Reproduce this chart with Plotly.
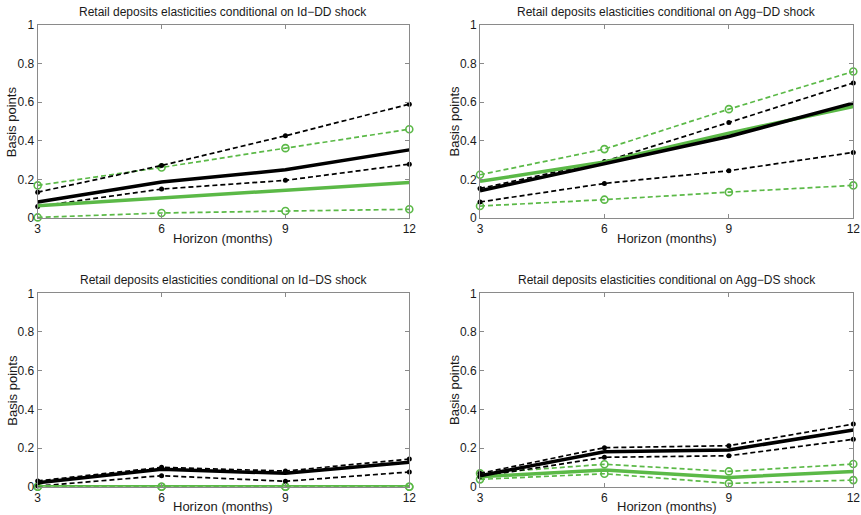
import plotly.graph_objects as go

horizon = [3, 6, 9, 12]

titles = [
    "Retail deposits elasticities conditional on Id\u2212DD shock",
    "Retail deposits elasticities conditional on Agg\u2212DD shock",
    "Retail deposits elasticities conditional on Id\u2212DS shock",
    "Retail deposits elasticities conditional on Agg\u2212DS shock",
]
x_title = "Horizon (months)"
y_title = "Basis points"

# Id-DD
iddd_black = [0.083, 0.186, 0.25, 0.353]
iddd_black_hi = [0.134, 0.272, 0.426, 0.59]
iddd_black_lo = [0.06, 0.15, 0.195, 0.279]
iddd_green = [0.064, 0.105, 0.145, 0.184]
iddd_green_hi = [0.169, 0.262, 0.362, 0.46]
iddd_green_lo = [0.003, 0.026, 0.036, 0.045]

# Agg-DD
aggdd_black = [0.141, 0.281, 0.422, 0.595]
aggdd_black_hi = [0.153, 0.293, 0.495, 0.70]
aggdd_black_lo = [0.083, 0.179, 0.245, 0.34]
aggdd_green = [0.19, 0.29, 0.44, 0.578]
aggdd_green_hi = [0.224, 0.357, 0.564, 0.759]
aggdd_green_lo = [0.062, 0.095, 0.134, 0.169]

# Id-DS
idds_black = [0.02, 0.09, 0.069, 0.126]
idds_black_hi = [0.03, 0.10, 0.081, 0.143]
idds_black_lo = [0.003, 0.057, 0.028, 0.076]
idds_green = [0.0, 0.0, 0.0, 0.0]
idds_green_hi = [0.0, 0.0, 0.0, 0.0]
idds_green_lo = [0.0, 0.0, 0.0, 0.0]

# Agg-DS
aggds_black = [0.057, 0.181, 0.19, 0.293]
aggds_black_hi = [0.069, 0.202, 0.212, 0.324]
aggds_black_lo = [0.052, 0.152, 0.16, 0.245]
aggds_green = [0.052, 0.086, 0.048, 0.078]
aggds_green_hi = [0.069, 0.116, 0.079, 0.117]
aggds_green_lo = [0.038, 0.067, 0.017, 0.034]

panels = [
    (iddd_black, iddd_black_hi, iddd_black_lo, iddd_green, iddd_green_hi, iddd_green_lo),
    (aggdd_black, aggdd_black_hi, aggdd_black_lo, aggdd_green, aggdd_green_hi, aggdd_green_lo),
    (idds_black, idds_black_hi, idds_black_lo, idds_green, idds_green_hi, idds_green_lo),
    (aggds_black, aggds_black_hi, aggds_black_lo, aggds_green, aggds_green_hi, aggds_green_lo),
]

W, H = 861, 515
GREEN = "#5BB947"
BLACK = "#000000"
GREY = "#8a8a8a"
TXT = "#1a1a1a"
DASH = "5px,3px"

xdoms = [[37.7 / W, 409.3 / W], [480 / W, 853.3 / W]]
ydoms = [[1 - 218 / H, 1 - 25 / H], [1 - 486.7 / H, 1 - 293.3 / H]]

fig = go.Figure()
FONT = "Liberation Sans, Arial, Helvetica, sans-serif"

for i, (b, bh, bl, g, gh, gl) in enumerate(panels):
    r, c = divmod(i, 2)
    n = i + 1
    xa = "x" if n == 1 else f"x{n}"
    ya = "y" if n == 1 else f"y{n}"
    common = dict(xaxis=xa, yaxis=ya, showlegend=False, cliponaxis=False, x=horizon,
                  hoverinfo="skip")
    for ys in (gh, gl):
        fig.add_trace(go.Scatter(y=ys, mode="lines+markers",
                                 line=dict(color=GREEN, width=1.7, dash=DASH),
                                 marker=dict(symbol="circle-open", size=7, color=GREEN,
                                             line=dict(width=1.6, color=GREEN)),
                                 **common))
    for ys in (bh, bl):
        fig.add_trace(go.Scatter(y=ys, mode="lines+markers",
                                 line=dict(color=BLACK, width=1.7, dash=DASH),
                                 marker=dict(symbol="circle", size=5, color=BLACK),
                                 **common))
    fig.add_trace(go.Scatter(y=g, mode="lines", line=dict(color=GREEN, width=3.5), **common))
    fig.add_trace(go.Scatter(y=b, mode="lines", line=dict(color=BLACK, width=3.5), **common))

    axis_common = dict(showline=True, linecolor=GREY, linewidth=1, mirror="allticks",
                       ticks="inside", ticklen=4, tickcolor=GREY, showgrid=False,
                       zeroline=False, automargin=False, fixedrange=True,
                       tickfont=dict(family=FONT, size=12, color=TXT))
    xkey = "xaxis" if n == 1 else f"xaxis{n}"
    ykey = "yaxis" if n == 1 else f"yaxis{n}"
    fig.update_layout({
        xkey: dict(domain=xdoms[c], anchor=ya, range=[3, 12], tickvals=horizon,
                   ticktext=[str(h) for h in horizon], **axis_common),
        ykey: dict(domain=ydoms[r], anchor=xa, range=[0, 1],
                   tickvals=[0, 0.2, 0.4, 0.6, 0.8, 1],
                   ticktext=["0", "0.2", "0.4", "0.6", "0.8", "1"],
                   **axis_common),
    })
    xd = xdoms[c]
    yd = ydoms[r]
    top_px = (1 - yd[1]) * H
    bot_px = (1 - yd[0]) * H
    fig.add_annotation(text=titles[i], xref="paper", yref="paper",
                       x=(xd[0] + xd[1]) / 2, y=1 - (top_px - 13) / H,
                       xanchor="center", yanchor="middle", showarrow=False,
                       font=dict(family=FONT, size=12, color=TXT))
    fig.add_annotation(text=x_title, xref="paper", yref="paper",
                       x=(xd[0] + xd[1]) / 2, y=1 - (bot_px + 20) / H,
                       xanchor="center", yanchor="middle", showarrow=False,
                       font=dict(family=FONT, size=13, color=TXT))
    fig.add_annotation(text=y_title, xref="paper", yref="paper",
                       x=xd[0] - 26 / W, y=(yd[0] + yd[1]) / 2, textangle=-90,
                       xanchor="center", yanchor="middle", showarrow=False,
                       font=dict(family=FONT, size=13, color=TXT))

fig.update_layout(width=W, height=H, margin=dict(l=0, r=0, t=0, b=0),
                  paper_bgcolor="white", plot_bgcolor="white", hovermode=False)

fig.write_html("out.html", config={"displayModeBar": False},
               post_script="document.body.style.margin='0';document.body.style.overflow='hidden';")
